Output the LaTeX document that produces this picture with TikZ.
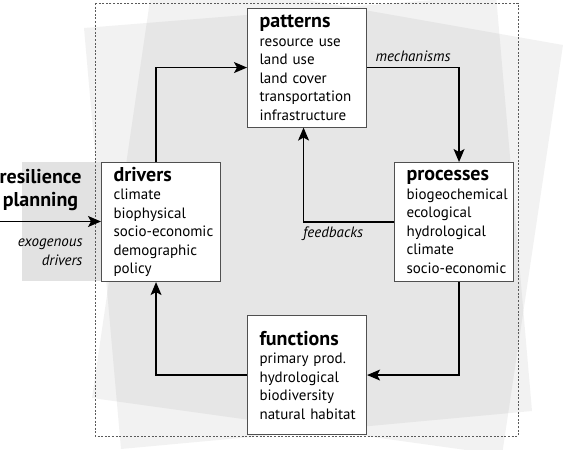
\documentclass[tikz,border=0pt]{standalone}
\usepackage{fontspec}
\setmainfont{PT Sans}
\usetikzlibrary{arrows.meta,calc,positioning}
\definecolor{boxedge}{HTML}{505050}
\definecolor{framegray}{HTML}{5A5A5A}
\definecolor{sidegray}{HTML}{E2E2E2}

\newcommand{\headfont}{\fontsize{20}{22}\selectfont\bfseries}

\begin{document}
\begin{tikzpicture}[
    x=1pt, y=-1pt,
    font=\fontsize{15}{18.5}\selectfont,
    stage/.style={draw=boxedge, line width=1.1pt, fill=white, anchor=north west,
        inner xsep=7pt, inner ysep=0pt, text width=105pt, minimum height=119pt, align=left,
        execute at begin node={\leftskip=5pt\hyphenpenalty=10000}},
    flow/.style={black, line width=1.3pt, -{Stealth[length=13pt, width=11pt, inset=3pt]}},
    linklabel/.style={font=\fontsize{15}{19}\selectfont\itshape},
    layer/.style={fill=black, fill opacity=0.05},
    outline/.style={framegray, line width=0.7pt, dash pattern=on 2pt off 1.6pt}
]
\useasboundingbox (0,0) rectangle (563,450);

% -------- background sheets --------
\fill[layer] (84,28) -- (496,-5) -- (532,411) -- (121,449) -- cycle;
\fill[layer] (154,-27) -- (563,45) -- (502,455) -- (92,398) -- cycle;
\fill[sidegray] (22,162) rectangle (101,281);
\draw[outline] (95,3) rectangle (518,436);

% -------- the four stages --------
\node[stage] (patterns) at (247,7.5) {{\headfont patterns}\\resource use\\land use\\land cover\\transportation\\infrastructure};
\node[stage] (drivers) at (101,162) {{\headfont drivers}\\climate\\biophysical\\socio-economic\\demographic\\policy};
\node[stage] (processes) at (394,162) {{\headfont processes}\\biogeochemical\\ecological\\hydrological\\climate\\socio-economic};
\node[stage] (functions) at (247,315) {{\headfont functions}\\primary prod.\\hydrological\\biodiversity\\natural habitat};

% -------- outside input --------
\node[font=\fontsize{20}{23}\selectfont\bfseries, align=center] (resil) at (40.5,190.5) {resilience\\planning};
\node[linklabel, align=right, anchor=east] (exo) at (86,252) {exogenous\\drivers};
\coordinate (entry) at (0,221.5);
\draw[flow] (entry) -- (entry -| drivers.west);

% -------- cycle --------
\draw[flow] ([xshift=-5pt]drivers.north) |- (patterns.west);
\draw[flow] (patterns.east) -| node[pos=0.25, above=2pt, linklabel] {mechanisms} ([xshift=5pt]processes.north);
\draw[flow] (processes.west) -| node[pos=0.5, anchor=north west, inner xsep=-1pt, inner ysep=4pt, linklabel] {feedbacks} ([xshift=-3.5pt]patterns.south);
\draw[flow] ([xshift=5pt]processes.south) |- (functions.east);
\draw[flow] (functions.west) -| ([xshift=-5pt]drivers.south);

\end{tikzpicture}
\end{document}
